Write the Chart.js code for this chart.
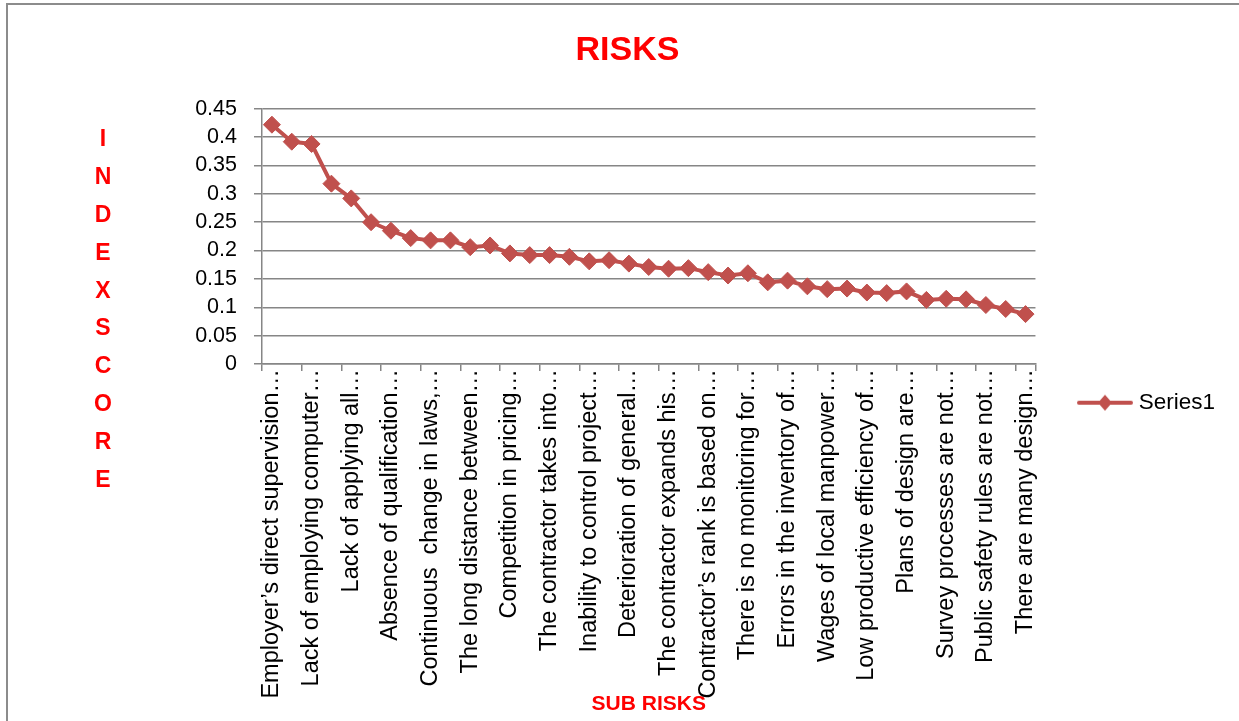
<!DOCTYPE html>
<html>
<head>
<meta charset="utf-8">
<title>RISKS</title>
<script src="https://cdn.jsdelivr.net/npm/chart.js@4.4.0/dist/chart.umd.min.js"></script>
<style>
    html, body { margin: 0; padding: 0; background: #fff; }
    #frame { position: absolute; left: 6px; top: 3px; width: 1300px; height: 800px;
             border-top: 2px solid #8c8c8c; border-left: 2px solid #8c8c8c; }
    #grafico1 { position: absolute; left: 0; top: 0; }
</style>
</head>
<body>
<div id="frame"></div>
<canvas id="grafico1" width="1239" height="721"></canvas>
<script>
// labels Excel could fit (every second category), truncated like the original
var subRisks = [
    'Employer\u2019s direct supervision\u2026',
    'Lack of employing computer\u2026',
    'Lack of applying all\u2026',
    'Absence of qualification\u2026',
    'Continuous  change in laws,\u2026',
    'The long distance between\u2026',
    'Competition in pricing\u2026',
    'The contractor takes into\u2026',
    'Inability to control project\u2026',
    'Deterioration of general\u2026',
    'The contractor expands his\u2026',
    'Contractor\u2019s rank is based on\u2026',
    'There is no monitoring for\u2026',
    'Errors in the inventory of\u2026',
    'Wages of local manpower\u2026',
    'Low productive efficiency of\u2026',
    'Plans of design are\u2026',
    'Survey processes are not\u2026',
    'Public safety rules are not\u2026',
    'There are many design\u2026'
];

var indexScore = [
    0.422, 0.392, 0.388, 0.318, 0.292, 0.250, 0.235, 0.222, 0.218, 0.218,
    0.206, 0.209, 0.195, 0.192, 0.192, 0.189, 0.181, 0.183, 0.177, 0.171,
    0.168, 0.169, 0.162, 0.156, 0.160, 0.144, 0.147, 0.137, 0.132, 0.133,
    0.126, 0.125, 0.128, 0.113, 0.115, 0.114, 0.104, 0.097, 0.088
];

var seriesName = 'Series1';
var chartTitle = 'RISKS';
var xTitle = 'SUB RISKS';
var yTitle = 'INDEXSCORE';
var yMin = 0, yMax = 0.45, yStep = 0.05;

var lineColor = '#C0504D';
var gridColor = '#868686';
var fontFamily = '"Liberation Sans", Arial, sans-serif';

// hidden labels in between are unknown -> blank
var categories = indexScore.map(function(v, i) {
    return i % 2 === 0 ? subRisks[i / 2] : '';
});

// legend glyph: line with a diamond, like Excel
function legendGlyph() {
    var c = document.createElement('canvas');
    c.width = 58;
    c.height = 18;
    var g = c.getContext('2d');
    g.strokeStyle = lineColor;
    g.lineWidth = 4;
    g.lineCap = 'round';
    g.beginPath();
    g.moveTo(3, 9);
    g.lineTo(55, 9);
    g.stroke();
    g.fillStyle = lineColor;
    g.beginPath();
    g.moveTo(29, 1);
    g.lineTo(36, 9);
    g.lineTo(29, 17);
    g.lineTo(22, 9);
    g.closePath();
    g.fill();
    return c;
}

// stacked letters for the vertical axis title
var stackedTitle = {
    id: 'stackedTitle',
    afterDraw: function(chart) {
        var ctx = chart.ctx;
        ctx.save();
        ctx.fillStyle = '#FF0000';
        ctx.font = 'bold 23px ' + fontFamily;
        ctx.textAlign = 'center';
        ctx.textBaseline = 'middle';
        for (var i = 0; i < yTitle.length; i++) {
            ctx.fillText(yTitle[i], 103, 140 + i * 37.8);
        }
        ctx.restore();
    }
};

function makeGraphic(id) {
    var canvas = document.getElementById('grafico' + id);
    var dataGraphic = {
        type: 'line',
        data: {
            labels: categories,
            datasets: [{
                label: seriesName,
                data: indexScore,
                borderColor: lineColor,
                backgroundColor: lineColor,
                borderWidth: 4,
                tension: 0,
                pointStyle: 'rectRot',
                pointRadius: 8.5,
                pointBackgroundColor: lineColor,
                pointBorderColor: lineColor,
                pointBorderWidth: 1
            }]
        },
        options: {
            responsive: false,
            animation: false,
            layout: { padding: { left: 30, right: 14, top: 0, bottom: 0 } },
            plugins: {
                tooltip: { enabled: false },
                title: {
                    display: true,
                    text: chartTitle,
                    color: '#FF0000',
                    font: { family: fontFamily, size: 34, weight: 'bold' },
                    padding: { top: 30, bottom: 38 }
                },
                legend: {
                    display: true,
                    position: 'right',
                    align: 'center',
                    title: { display: true, text: '', font: { size: 12 }, padding: { top: 0, bottom: 70 } },
                    labels: {
                        usePointStyle: true,
                        pointStyle: legendGlyph(),
                        pointStyleWidth: 45,
                        padding: 47,
                        color: '#000',
                        font: { family: fontFamily, size: 22.5 }
                    }
                }
            },
            scales: {
                x: {
                    offset: true,
                    ticks: {
                        autoSkip: false,
                        maxRotation: 90,
                        minRotation: 90,
                        padding: -2,
                        color: '#000',
                        font: { family: fontFamily, size: 23.5 }
                    },
                    grid: {
                        offset: true,
                        drawOnChartArea: false,
                        tickLength: 7,
                        lineWidth: 1.5,
                        color: function(ctx) {
                            var i = ctx.index;
                            return (i === undefined || i % 2 === 0) ? gridColor : 'rgba(0,0,0,0)';
                        }
                    },
                    border: { color: gridColor, width: 1.5 },
                    title: {
                        display: true,
                        text: xTitle,
                        color: '#FF0000',
                        font: { family: fontFamily, size: 21, weight: 'bold' },
                        padding: { top: 0, bottom: 4 }
                    },
                    afterFit: function(scale) { scale.height = 357; }
                },
                y: {
                    min: yMin,
                    max: yMax,
                    ticks: {
                        stepSize: yStep,
                        autoSkip: false,
                        padding: 17,
                        color: '#000',
                        font: { family: fontFamily, size: 21.5 },
                        callback: function(v) { return String(+v.toFixed(2)); }
                    },
                    grid: { color: gridColor, lineWidth: 1.5, tickLength: 8 },
                    border: { color: gridColor, width: 1.5 },
                    afterFit: function(scale) { scale.width = 232; }
                }
            }
        },
        plugins: [stackedTitle]
    };
    return new Chart(canvas, dataGraphic);
}

makeGraphic(1);
</script>
</body>
</html>
